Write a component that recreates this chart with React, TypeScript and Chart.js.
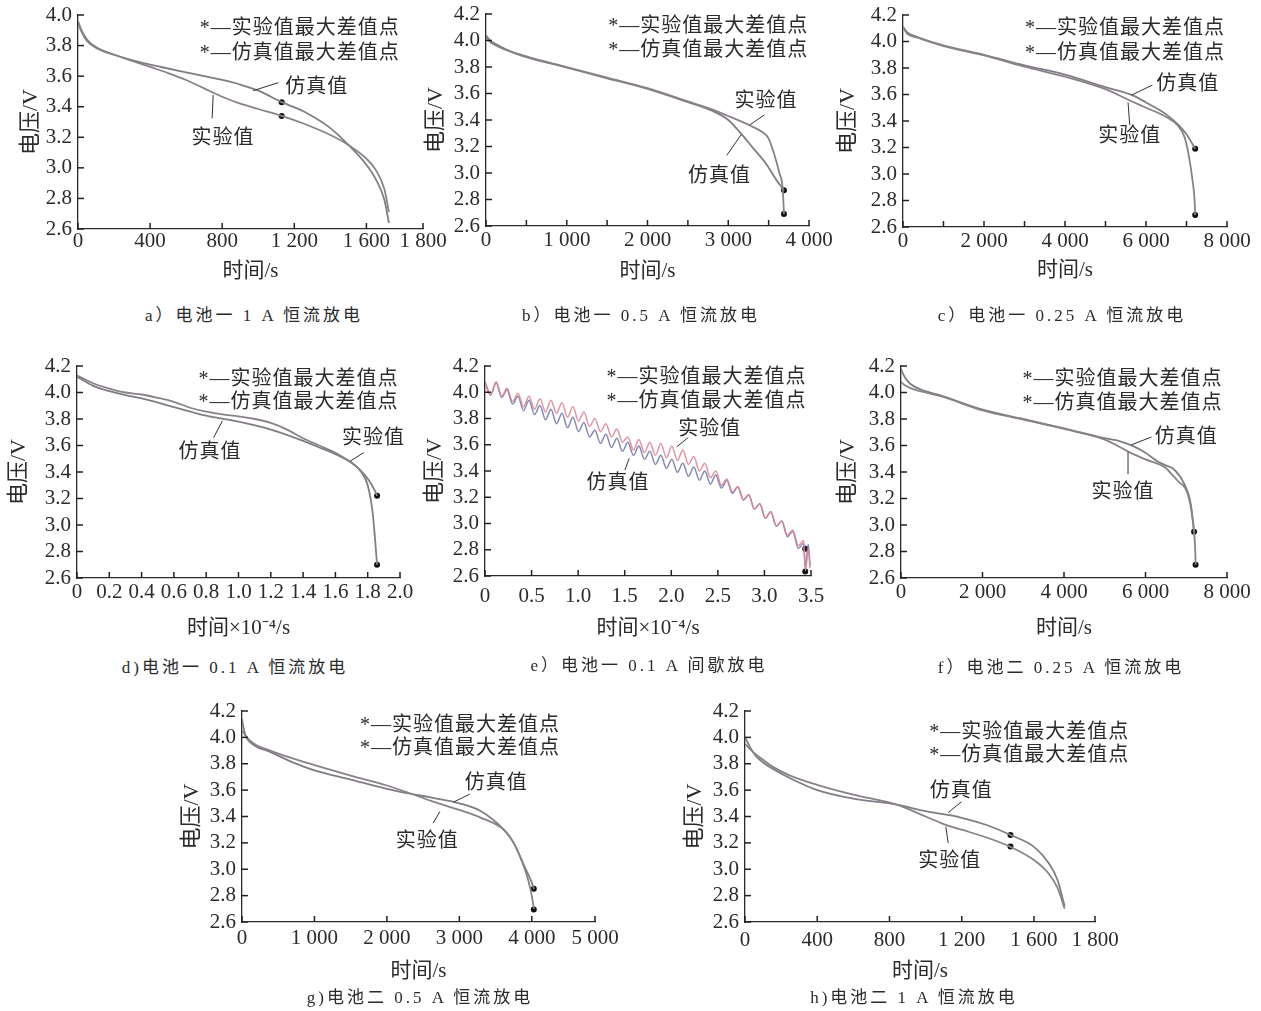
import React, { useEffect, useRef } from "react";
import { Chart, registerables } from "chart.js";

Chart.register(...registerables);

const FONT = '"Liberation Serif", "Noto Sans CJK SC", serif';
const INK = "#2b2b2b";

// ---------------- tick values / labels ----------------
const yTicks40 = [2.6, 2.8, 3.0, 3.2, 3.4, 3.6, 3.8, 4.0];
const yLabels40 = ["2.6", "2.8", "3.0", "3.2", "3.4", "3.6", "3.8", "4.0"];
const yTicks42 = [2.6, 2.8, 3.0, 3.2, 3.4, 3.6, 3.8, 4.0, 4.2];
const yLabels42 = ["2.6", "2.8", "3.0", "3.2", "3.4", "3.6", "3.8", "4.0", "4.2"];

const xTicksA = [0, 400, 800, 1200, 1600, 1914];
const xLabelsA = ["0", "400", "800", "1 200", "1 600", "1 800"];
const xTicksB = [0, 500, 1000, 1500, 2000, 2500, 3000, 3500, 4000];
const xLabelsB = ["0", "", "1 000", "", "2 000", "", "3 000", "", "4 000"];
const xTicksC = [0, 1000, 2000, 3000, 4000, 5000, 6000, 7000, 8000];
const xLabelsC = ["0", "", "2 000", "", "4 000", "", "6 000", "", "8 000"];
const xTicksD = [0, 0.2, 0.4, 0.6, 0.8, 1.0, 1.2, 1.4, 1.6, 1.8, 2.0];
const xLabelsD = ["0", "0.2", "0.4", "0.6", "0.8", "1.0", "1.2", "1.4", "1.6", "1.8", "2.0"];
const xTicksE = [0, 0.5, 1.0, 1.5, 2.0, 2.5, 3.0, 3.5];
const xLabelsE = ["0", "0.5", "1.0", "1.5", "2.0", "2.5", "3.0", "3.5"];
const xTicksF = [0, 2000, 4000, 6000, 8000];
const xLabelsF = ["0", "2 000", "4 000", "6 000", "8 000"];
const xTicksG = [0, 1000, 2000, 3000, 4000, 4873];
const xLabelsG = ["0", "1 000", "2 000", "3 000", "4 000", "5 000"];
const xTicksH = [0, 400, 800, 1200, 1600, 1938];
const xLabelsH = ["0", "400", "800", "1 200", "1 600", "1 800"];

// ---------------- a) 电池一 1 A 恒流放电 ----------------
const aExpT = [0, 20, 50, 100, 200, 300, 400, 500, 600, 700, 800, 900, 1000, 1130, 1250, 1400, 1500, 1600, 1650, 1700, 1725];
const aExpV = [3.96, 3.9, 3.84, 3.79, 3.74, 3.7, 3.66, 3.62, 3.575, 3.52, 3.465, 3.42, 3.385, 3.34, 3.29, 3.215, 3.15, 3.06, 2.99, 2.86, 2.71];
const aSimT = [0, 20, 50, 100, 200, 300, 400, 500, 600, 700, 800, 900, 1000, 1130, 1250, 1400, 1500, 1600, 1650, 1700, 1725];
const aSimV = [3.95, 3.89, 3.83, 3.785, 3.74, 3.705, 3.675, 3.65, 3.625, 3.6, 3.575, 3.545, 3.505, 3.43, 3.37, 3.26, 3.15, 3.02, 2.93, 2.79, 2.64];
const aMarkT = [1130, 1130];
const aMarkV = [3.43, 3.34];

// ---------------- b) 电池一 0.5 A 恒流放电 ----------------
const bExpT = [0, 50, 100, 260, 500, 1000, 1500, 2000, 2500, 2800, 3000, 3263, 3420, 3500, 3560, 3633, 3674, 3690];
const bExpV = [4.04, 4.0, 3.98, 3.93, 3.88, 3.8, 3.72, 3.64, 3.54, 3.48, 3.43, 3.36, 3.31, 3.26, 3.16, 3.0, 2.88, 2.69];
const bSimT = [0, 50, 100, 260, 500, 1000, 1500, 2000, 2500, 2800, 3000, 3140, 3305, 3469, 3593, 3690];
const bSimV = [4.03, 3.99, 3.97, 3.925, 3.875, 3.795, 3.715, 3.635, 3.535, 3.47, 3.4, 3.31, 3.19, 3.07, 2.95, 2.87];
const bMarkT = [3690, 3690];
const bMarkV = [2.87, 2.69];

// ---------------- c) 电池一 0.25 A 恒流放电 ----------------
const cExpT = [0, 100, 345, 1000, 2000, 3000, 4000, 5000, 5600, 6000, 6500, 6800, 6950, 7050, 7150, 7200, 7215];
const cExpV = [4.11, 4.06, 4.03, 3.965, 3.895, 3.81, 3.735, 3.64, 3.555, 3.5, 3.43, 3.36, 3.28, 3.15, 2.95, 2.8, 2.69];
const cSimT = [0, 100, 345, 1000, 2000, 3000, 4000, 5000, 5700, 6000, 6500, 6800, 7000, 7215];
const cSimV = [4.11, 4.07, 4.035, 3.97, 3.9, 3.82, 3.75, 3.655, 3.59, 3.54, 3.45, 3.37, 3.3, 3.19];
const cMarkT = [7215, 7215];
const cMarkV = [3.19, 2.69];

// ---------------- d) 电池一 0.1 A 恒流放电 (×10^4 s) ----------------
const dExpT = [0, 0.1, 0.2, 0.3, 0.4, 0.5, 0.6, 0.7, 0.8, 0.9, 1.0, 1.1, 1.2, 1.3, 1.4, 1.5, 1.6, 1.7, 1.75, 1.8, 1.84, 1.858];
const dExpV = [4.13, 4.07, 4.03, 4.0, 3.985, 3.96, 3.93, 3.885, 3.855, 3.835, 3.82, 3.8, 3.77, 3.72, 3.655, 3.6, 3.545, 3.47, 3.42, 3.35, 3.27, 3.22];
const dSimT = [0, 0.1, 0.2, 0.3, 0.4, 0.6, 0.8, 1.0, 1.2, 1.4, 1.5, 1.6, 1.7, 1.76, 1.8, 1.83, 1.845, 1.858];
const dSimV = [4.12, 4.05, 4.01, 3.98, 3.955, 3.89, 3.825, 3.78, 3.72, 3.635, 3.585, 3.535, 3.47, 3.4, 3.3, 3.1, 2.9, 2.7];
const dMarkT = [1.858, 1.858];
const dMarkV = [3.22, 2.7];

// ---------------- e) 电池一 0.1 A 间歇放电 (×10^4 s) ----------------
const ePeakT = [0, 0.12, 0.236, 0.354, 0.472, 0.59, 0.708, 0.826, 0.944, 1.062, 1.18, 1.298, 1.416, 1.534, 1.652, 1.77, 1.888, 2.006, 2.124, 2.242, 2.36, 2.478, 2.596, 2.714, 2.832, 2.95, 3.068, 3.186, 3.304, 3.42, 3.47];
const eTroughT = [0.06, 0.18, 0.296, 0.414, 0.532, 0.65, 0.768, 0.886, 1.004, 1.122, 1.24, 1.358, 1.476, 1.594, 1.712, 1.83, 1.948, 2.066, 2.184, 2.302, 2.42, 2.538, 2.656, 2.774, 2.892, 3.01, 3.128, 3.246, 3.364, 3.44, 3.49];
const eExpPeak = [4.07, 4.08, 4.03, 3.99, 3.97, 3.95, 3.94, 3.92, 3.89, 3.85, 3.8, 3.76, 3.72, 3.66, 3.64, 3.62, 3.61, 3.59, 3.56, 3.51, 3.46, 3.4, 3.34, 3.28, 3.22, 3.15, 3.09, 3.02, 2.95, 2.87, 2.81];
const eExpTrough = [3.98, 3.97, 3.93, 3.89, 3.87, 3.85, 3.84, 3.81, 3.78, 3.74, 3.7, 3.66, 3.62, 3.56, 3.54, 3.52, 3.5, 3.48, 3.45, 3.4, 3.35, 3.29, 3.24, 3.18, 3.11, 3.04, 2.98, 2.91, 2.83, 2.64, 2.66];
const eSimPeak = [4.08, 4.07, 4.02, 3.97, 3.94, 3.9, 3.87, 3.84, 3.81, 3.77, 3.71, 3.68, 3.65, 3.62, 3.59, 3.55, 3.52, 3.49, 3.46, 3.43, 3.4, 3.37, 3.33, 3.28, 3.22, 3.15, 3.09, 3.02, 2.94, 2.85, 2.84];
const eSimTrough = [3.98, 3.96, 3.91, 3.86, 3.83, 3.79, 3.76, 3.73, 3.7, 3.66, 3.61, 3.58, 3.55, 3.52, 3.49, 3.45, 3.42, 3.39, 3.36, 3.33, 3.3, 3.27, 3.23, 3.18, 3.11, 3.04, 2.98, 2.9, 2.81, 2.66, 2.68];
const eMarkT = [3.438, 3.438];
const eMarkV = [2.807, 2.635];

// ---------------- f) 电池二 0.25 A 恒流放电 ----------------
const fSimT = [0, 50, 150, 300, 600, 1000, 2000, 3000, 4000, 5000, 5400, 5700, 6000, 6300, 6500, 6700, 6950, 7110, 7190];
const fSimV = [4.18, 4.14, 4.09, 4.05, 4.01, 3.975, 3.87, 3.8, 3.73, 3.655, 3.63, 3.595, 3.545, 3.48, 3.45, 3.42, 3.31, 3.16, 2.95];
const fExpT = [0, 50, 150, 300, 600, 1000, 2000, 3000, 4000, 5000, 5300, 5600, 6000, 6500, 6620, 6800, 7030, 7150, 7220, 7230];
const fExpV = [4.08, 4.065, 4.045, 4.025, 4.0, 3.97, 3.865, 3.795, 3.725, 3.645, 3.6, 3.55, 3.495, 3.43, 3.39, 3.33, 3.24, 3.06, 2.81, 2.7];
const fMarkT = [7192, 7228];
const fMarkV = [2.95, 2.7];

// ---------------- g) 电池二 0.5 A 恒流放电 ----------------
const gExpT = [0, 55, 100, 200, 387, 700, 1000, 1500, 2000, 2300, 2600, 3000, 3300, 3613, 3750, 3850, 3950, 4000, 4030];
const gExpV = [4.05, 4.01, 3.98, 3.94, 3.9, 3.84, 3.79, 3.71, 3.635, 3.58, 3.52, 3.45, 3.39, 3.3, 3.2, 3.08, 2.92, 2.8, 2.7];
const gSimT = [0, 15, 30, 60, 100, 200, 387, 700, 1000, 1500, 2000, 2300, 2600, 3000, 3300, 3613, 3750, 3900, 4000, 4030];
const gSimV = [4.14, 4.09, 4.05, 4.0, 3.97, 3.93, 3.89, 3.81, 3.75, 3.68, 3.61, 3.575, 3.545, 3.5, 3.44, 3.3, 3.2, 3.02, 2.9, 2.85];
const gMarkT = [4028, 4028];
const gMarkV = [2.852, 2.694];

// ---------------- h) 电池二 1 A 恒流放电 ----------------
const hSimT = [0, 15, 30, 60, 100, 150, 250, 400, 600, 840, 1000, 1133, 1200, 1350, 1470, 1600, 1680, 1730, 1770];
const hSimV = [4.0, 3.96, 3.92, 3.86, 3.81, 3.765, 3.69, 3.6, 3.535, 3.49, 3.44, 3.41, 3.39, 3.33, 3.26, 3.17, 3.05, 2.92, 2.72];
const hExpT = [0, 30, 60, 100, 150, 250, 400, 600, 840, 1000, 1115, 1200, 1350, 1470, 1600, 1680, 1730, 1770];
const hExpV = [3.95, 3.91, 3.87, 3.83, 3.78, 3.71, 3.64, 3.565, 3.49, 3.4, 3.335, 3.3, 3.235, 3.17, 3.07, 2.97, 2.86, 2.7];
const hMarkT = [1470, 1470];
const hMarkV = [3.26, 3.172];

// ---------------- text ----------------
const LEG1 = "*—实验值最大差值点";
const LEG2 = "*—仿真值最大差值点";
const SIM = "仿真值";
const EXP = "实验值";
const Y_TITLE = "电压/V";
const X_TITLE = "时间/s";
const X_TITLE_E4 = "时间×10⁻⁴/s";

// ---------------- helpers ----------------
const pts = (t: number[], v: number[]) => t.map((x, i) => ({ x, y: v[i] }));
const interleave = (pt: number[], pv: number[], tt: number[], tv: number[]) => {
  const out: { x: number; y: number }[] = [];
  for (let i = 0; i < pt.length; i++) {
    out.push({ x: pt[i], y: pv[i] });
    out.push({ x: tt[i], y: tv[i] });
  }
  return out;
};

const EXP_COLOR = "#8b8189";
const SIM_COLOR = "#7f7e86";

type Note = { text: string; x: number; y: number; ls: number };
type Spec = {
  id: string;
  box: [number, number, number, number];
  xMax: number;
  yMax: number;
  xTicks: number[];
  xLabels: string[];
  yTicks: number[];
  yLabels: string[];
  xTitle: string;
  xLabelPad: number;
  xTitlePad: number;
  yTitlePad: number;
  lines: { data: { x: number; y: number }[]; color: string; width: number }[];
  marks: { x: number; y: number }[];
  notes: Note[];
  leaders: number[][];
};

const legend = (x: number, y1: number, y2: number): Note[] => [
  { text: LEG1, x, y: y1, ls: 1 },
  { text: LEG2, x, y: y2, ls: 1 },
];

const SPECS: Spec[] = [
  {
    id: "a", box: [78.3, 15, 422.7, 229], xMax: 1914, yMax: 4.0,
    xTicks: xTicksA, xLabels: xLabelsA, yTicks: yTicks40, yLabels: yLabels40,
    xTitle: X_TITLE, xLabelPad: 0, xTitlePad: 15, yTitlePad: 12,
    lines: [
      { data: pts(aExpT, aExpV), color: EXP_COLOR, width: 1.8 },
      { data: pts(aSimT, aSimV), color: SIM_COLOR, width: 1.8 },
    ],
    marks: pts(aMarkT, aMarkV),
    notes: [...legend(676, 3.923, 3.76), { text: SIM, x: 1150, y: 3.535, ls: 1 }, { text: EXP, x: 630, y: 3.204, ls: 1 }],
    leaders: [[972, 3.505, 1111, 3.557], [750, 3.477, 744, 3.324]],
  },
  {
    id: "b", box: [485.7, 14, 809.3, 226], xMax: 4000, yMax: 4.2,
    xTicks: xTicksB, xLabels: xLabelsB, yTicks: yTicks42, yLabels: yLabels42,
    xTitle: X_TITLE, xLabelPad: 2, xTitlePad: 12, yTitlePad: 9,
    lines: [
      { data: pts(bExpT, bExpV), color: EXP_COLOR, width: 1.8 },
      { data: pts(bSimT, bSimV), color: SIM_COLOR, width: 1.8 },
    ],
    marks: pts(bMarkT, bMarkV),
    notes: [...legend(1515, 4.117, 3.934), { text: EXP, x: 3078, y: 3.551, ls: 1 }, { text: SIM, x: 2501, y: 2.985, ls: 1 }],
    leaders: [[3263, 3.362, 3448, 3.438], [3160, 3.29, 2983, 3.134]],
  },
  {
    id: "c", box: [902.7, 15, 1227.3, 226.7], xMax: 8000, yMax: 4.2,
    xTicks: xTicksC, xLabels: xLabelsC, yTicks: yTicks42, yLabels: yLabels42,
    xTitle: X_TITLE, xLabelPad: 1.5, xTitlePad: 14, yTitlePad: 4,
    lines: [
      { data: pts(cExpT, cExpV), color: EXP_COLOR, width: 1.8 },
      { data: pts(cSimT, cSimV), color: SIM_COLOR, width: 1.8 },
    ],
    marks: pts(cMarkT, cMarkV),
    notes: [...legend(3012, 4.112, 3.923), { text: SIM, x: 6256, y: 3.688, ls: 1 }, { text: EXP, x: 4818, y: 3.293, ls: 1 }],
    leaders: [[5640, 3.595, 6158, 3.671], [5557, 3.54, 5599, 3.369]],
  },
  {
    id: "d", box: [76.7, 366, 400, 577.7], xMax: 2.0, yMax: 4.2,
    xTicks: xTicksD, xLabels: xLabelsD, yTicks: yTicks42, yLabels: yLabels42,
    xTitle: X_TITLE_E4, xLabelPad: 1.5, xTitlePad: 7, yTitlePad: 1,
    lines: [
      { data: pts(dExpT, dExpV), color: EXP_COLOR, width: 1.8 },
      { data: pts(dSimT, dSimV), color: SIM_COLOR, width: 1.8 },
    ],
    marks: pts(dMarkT, dMarkV),
    notes: [...legend(0.753, 4.114, 3.94), { text: EXP, x: 1.641, y: 3.666, ls: 1 }, { text: SIM, x: 0.629, y: 3.559, ls: 1 }],
    leaders: [[1.692, 3.482, 1.775, 3.546], [0.846, 3.66, 0.9, 3.785]],
  },
  {
    id: "e", box: [485.3, 365.7, 811, 576.3], xMax: 3.5, yMax: 4.2,
    xTicks: xTicksE, xLabels: xLabelsE, yTicks: yTicks42, yLabels: yLabels42,
    xTitle: X_TITLE_E4, xLabelPad: 7.5, xTitlePad: 5, yTitlePad: 9,
    lines: [
      { data: interleave(ePeakT, eExpPeak, eTroughT, eExpTrough), color: "rgba(218,132,150,0.85)", width: 1.5 },
      { data: interleave(ePeakT, eSimPeak, eTroughT, eSimTrough), color: "rgba(104,106,160,0.8)", width: 1.5 },
    ],
    marks: pts(eMarkT, eMarkV),
    notes: [...legend(1.305, 4.129, 3.945), { text: EXP, x: 2.075, y: 3.732, ls: 1 }, { text: SIM, x: 1.09, y: 3.319, ls: 1 }],
    leaders: [[2.058, 3.584, 2.183, 3.656], [1.548, 3.496, 1.502, 3.407]],
  },
  {
    id: "f", box: [901, 365.7, 1227.3, 577.7], xMax: 8000, yMax: 4.2,
    xTicks: xTicksF, xLabels: xLabelsF, yTicks: yTicks42, yLabels: yLabels42,
    xTitle: X_TITLE, xLabelPad: 1.5, xTitlePad: 7, yTitlePad: 6,
    lines: [
      { data: pts(fExpT, fExpV), color: EXP_COLOR, width: 1.8 },
      { data: pts(fSimT, fSimV), color: SIM_COLOR, width: 1.8 },
    ],
    marks: pts(fMarkT, fMarkV),
    notes: [...legend(2983, 4.112, 3.928), { text: SIM, x: 6225, y: 3.677, ls: 1 }, { text: EXP, x: 4674, y: 3.262, ls: 1 }],
    leaders: [[5654, 3.605, 6145, 3.664], [5571, 3.55, 5571, 3.383]],
  },
  {
    id: "g", box: [242, 710.7, 595.3, 922.3], xMax: 4873, yMax: 4.2,
    xTicks: xTicksG, xLabels: xLabelsG, yTicks: yTicks42, yLabels: yLabels42,
    xTitle: X_TITLE, xLabelPad: 3.5, xTitlePad: 8, yTitlePad: 9,
    lines: [
      { data: pts(gExpT, gExpV), color: EXP_COLOR, width: 1.8 },
      { data: pts(gSimT, gSimV), color: SIM_COLOR, width: 1.8 },
    ],
    marks: pts(gMarkT, gMarkV),
    notes: [...legend(1628, 4.105, 3.928), { text: SIM, x: 3076, y: 3.663, ls: 1 }, { text: EXP, x: 2124, y: 3.223, ls: 1 }],
    leaders: [[2915, 3.508, 3145, 3.57], [2731, 3.437, 2639, 3.349]],
  },
  {
    id: "h", box: [745, 710.7, 1095.3, 922.3], xMax: 1938, yMax: 4.2,
    xTicks: xTicksH, xLabels: xLabelsH, yTicks: yTicks42, yLabels: yLabels42,
    xTitle: X_TITLE, xLabelPad: 5.5, xTitlePad: 8, yTitlePad: 9,
    lines: [
      { data: pts(hExpT, hExpV), color: EXP_COLOR, width: 1.8 },
      { data: pts(hSimT, hSimV), color: SIM_COLOR, width: 1.8 },
    ],
    marks: pts(hMarkT, hMarkV),
    notes: [...legend(1020, 4.054, 3.878), { text: SIM, x: 1023, y: 3.6, ls: 1 }, { text: EXP, x: 959, y: 3.071, ls: 1 }],
    leaders: [[1125, 3.429, 1199, 3.512], [1112, 3.323, 1125, 3.198]],
  },
];

const CAPTIONS = [
  { text: "a）电池一 1 A 恒流放电", x: 254, y: 313 },
  { text: "b）电池一 0.5 A 恒流放电", x: 641, y: 313 },
  { text: "c）电池一 0.25 A 恒流放电", x: 1062, y: 313 },
  { text: "d)电池一 0.1 A 恒流放电", x: 235, y: 665 },
  { text: "e）电池一 0.1 A 间歇放电", x: 649, y: 663 },
  { text: "f）电池二 0.25 A 恒流放电", x: 1061, y: 665 },
  { text: "g)电池二 0.5 A 恒流放电", x: 420, y: 995 },
  { text: "h)电池二 1 A 恒流放电", x: 914, y: 995 },
];

const Y_W = 72;
const PAD_T = 30;
const PAD_R = 80;
const X_H = 70;
const TICK_LEN = 6;

// Draws inward tick marks, the text notes and their leader lines for one panel.
const makeOverlay = (spec: Spec) => ({
  id: "overlay_" + spec.id,
  afterDraw(chart: any) {
    const { ctx, scales, chartArea } = chart;
    const xs = scales.x;
    const ys = scales.y;
    ctx.save();
    ctx.strokeStyle = "#222";
    ctx.lineWidth = 1.5;
    ctx.lineCap = "butt";
    for (const v of spec.xTicks) {
      const px = xs.getPixelForValue(v);
      ctx.beginPath();
      ctx.moveTo(px, chartArea.bottom);
      ctx.lineTo(px, chartArea.bottom - TICK_LEN);
      ctx.stroke();
    }
    for (const v of spec.yTicks) {
      const py = ys.getPixelForValue(v);
      ctx.beginPath();
      ctx.moveTo(chartArea.left, py);
      ctx.lineTo(chartArea.left + TICK_LEN, py);
      ctx.stroke();
    }

    ctx.fillStyle = INK;
    ctx.textBaseline = "middle";
    ctx.textAlign = "left";
    ctx.font = `20px ${FONT}`;
    for (const n of spec.notes) {
      (ctx as any).letterSpacing = `${n.ls}px`;
      ctx.fillText(n.text, xs.getPixelForValue(n.x), ys.getPixelForValue(n.y) + 2);
    }
    (ctx as any).letterSpacing = "0px";
    ctx.strokeStyle = "#333";
    ctx.lineWidth = 1;
    ctx.beginPath();
    for (const l of spec.leaders) {
      ctx.moveTo(xs.getPixelForValue(l[0]), ys.getPixelForValue(l[1]));
      ctx.lineTo(xs.getPixelForValue(l[2]), ys.getPixelForValue(l[3]));
    }
    ctx.stroke();
    ctx.restore();
  },
});

function Panel({ spec }: { spec: Spec }) {
  const ref = useRef<HTMLCanvasElement | null>(null);
  const L = Math.round(spec.box[0]);
  const T = Math.round(spec.box[1]);
  const Wp = Math.round(spec.box[2]) - L;
  const Hp = Math.round(spec.box[3]) - T;
  const W = Y_W + Wp + PAD_R;
  const H = PAD_T + Hp + X_H;

  useEffect(() => {
    const canvas = ref.current;
    if (!canvas) return;
    const tickFont = { family: FONT, size: 21 };
    const datasets: any[] = spec.lines.map((ln) => ({
      data: ln.data,
      borderColor: ln.color,
      backgroundColor: ln.color,
      borderWidth: ln.width,
      showLine: true,
      pointRadius: 0,
      cubicInterpolationMode: "monotone",
      fill: false,
    }));
    datasets.push({
      data: spec.marks,
      showLine: false,
      pointRadius: 3,
      pointBackgroundColor: "#111",
      pointBorderWidth: 0,
      clip: false,
    });
    const chart = new Chart(canvas, {
      type: "scatter",
      data: { datasets },
      options: {
        animation: false,
        responsive: false,
        events: [],
        layout: { padding: { left: 0, top: PAD_T, right: PAD_R, bottom: 0 } },
        plugins: {
          legend: { display: false },
          tooltip: { enabled: false },
        },
        scales: {
          x: {
            type: "linear",
            min: 0,
            max: spec.xMax,
            afterBuildTicks: (s: any) => {
              s.ticks = spec.xTicks.map((v) => ({ value: v }));
            },
            afterFit: (s: any) => {
              s.height = X_H;
            },
            ticks: {
              autoSkip: false,
              maxRotation: 0,
              minRotation: 0,
              padding: spec.xLabelPad,
              font: tickFont,
              color: INK,
              callback: (_v: any, i: number) => spec.xLabels[i],
            },
            grid: { display: false, drawOnChartArea: false, drawTicks: false },
            border: { display: true, color: INK, width: 1.3 },
            title: {
              display: true,
              text: spec.xTitle,
              font: { family: FONT, size: 21 },
              color: INK,
              padding: { top: 0, bottom: spec.xTitlePad },
            },
          },
          y: {
            type: "linear",
            min: 2.6,
            max: spec.yMax,
            afterBuildTicks: (s: any) => {
              s.ticks = spec.yTicks.map((v) => ({ value: v }));
            },
            afterFit: (s: any) => {
              s.width = Y_W;
            },
            ticks: {
              autoSkip: false,
              padding: 6,
              font: tickFont,
              color: INK,
              callback: (_v: any, i: number) => spec.yLabels[i],
            },
            grid: { display: false, drawOnChartArea: false, drawTicks: false },
            border: { display: true, color: INK, width: 1.3 },
            title: {
              display: true,
              text: Y_TITLE,
              font: { family: FONT, size: 22 },
              color: INK,
              padding: { top: spec.yTitlePad, bottom: 0 },
            },
          },
        },
      } as any,
      plugins: [makeOverlay(spec) as any],
    });
    return () => chart.destroy();
  }, [spec]);

  return (
    <canvas
      ref={ref}
      width={W}
      height={H}
      style={{ position: "absolute", left: L - Y_W, top: T - PAD_T, width: W, height: H }}
    />
  );
}

export default function App() {
  return (
    <div style={{ position: "absolute", left: 0, top: 0, width: 1261, height: 1011, background: "#fff", overflow: "hidden" }}>
      {SPECS.map((s) => (
        <Panel key={s.id} spec={s} />
      ))}
      {CAPTIONS.map((c) => (
        <div
          key={c.text}
          style={{
            position: "absolute",
            left: c.x,
            top: c.y,
            transform: "translate(-50%, -50%)",
            font: `17px ${FONT}`,
            letterSpacing: "3px",
            color: INK,
            whiteSpace: "nowrap",
          }}
        >
          {c.text}
        </div>
      ))}
    </div>
  );
}
